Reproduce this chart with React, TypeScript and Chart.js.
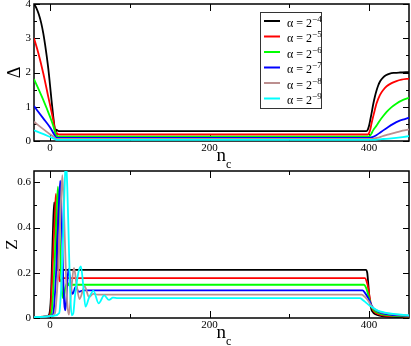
import React, { useEffect, useRef } from "react";
import { Chart, registerables } from "chart.js";

Chart.register(...registerables);

type Pt = [number, number];

// ---------- data ----------
const SERIES_COLORS = ["#000000", "#ff0000", "#00ff00", "#0000ff", "#bc8f8f", "#00ffff"];
const ALPHA_EXPONENTS = ["\u22124", "\u22125", "\u22126", "\u22127", "\u22128", "\u22129"];

const X_MAJOR_TICKS = [0, 200, 400];
const X_MINOR_TICKS = [100, 300];
const X_TICK_LABELS = ["0", "200", "400"];

const DELTA_MAJOR_TICKS = [0, 1, 2, 3, 4];
const DELTA_MINOR_TICKS = [0.5, 1.5, 2.5, 3.5];
const DELTA_TICK_LABELS = ["0", "1", "2", "3", "4"];

const Z_MAJOR_TICKS = [0, 0.2, 0.4, 0.6];
const Z_MINOR_TICKS = [0.1, 0.3, 0.5];
const Z_TICK_LABELS = ["0", "0.2", "0.4", "0.6"];

// Δ(n_c) for α = 2^-4 ... 2^-9
const DELTA_A4: Pt[] = [
  [-20, 4.0], [-17, 3.88], [-14, 3.7], [-11, 3.45], [-8.4, 3.15], [-6, 2.8], [-4.2, 2.5], [-2, 2.1],
  [0, 1.65], [2, 1.18], [4.2, 0.7], [5.5, 0.45], [6.5, 0.3], [7.3, 0.27], [8.2, 0.33], [9.2, 0.31],
  [11, 0.29], [396.5, 0.29], [398.5, 0.34], [400, 0.45], [401.5, 0.62], [403, 0.8], [405.2, 1.08],
  [407.3, 1.3], [409.4, 1.48], [411.4, 1.62], [414, 1.75], [417.7, 1.86], [421, 1.92], [426, 1.97],
  [432, 1.99], [438.6, 2.0], [450, 2.01],
];
const DELTA_A5: Pt[] = [
  [-20, 3.0], [-14.6, 2.57], [-8.4, 1.98], [-2.1, 1.29], [2, 0.85], [4.2, 0.6], [6, 0.35], [7, 0.22],
  [7.8, 0.18], [8.8, 0.23], [10, 0.2], [12, 0.19], [398.5, 0.19], [400, 0.24], [401.5, 0.34],
  [403, 0.51], [406, 0.8], [409.4, 1.1], [413.5, 1.34], [417.7, 1.49], [422, 1.6], [428.2, 1.69],
  [434.3, 1.75], [440.7, 1.79], [450, 1.82],
];
const DELTA_A6: Pt[] = [
  [-20, 1.81], [-8.4, 1.2], [0, 0.71], [4, 0.45], [6.3, 0.26], [7.5, 0.14], [8.5, 0.16], [10, 0.13],
  [399.5, 0.13], [401, 0.15], [403, 0.22], [405, 0.31], [409.4, 0.45], [413.5, 0.6], [417.7, 0.73],
  [422, 0.85], [428.2, 0.99], [434, 1.09], [440.7, 1.18], [450, 1.26],
];
const DELTA_A7: Pt[] = [
  [-20, 1.02], [-8.4, 0.66], [0, 0.4], [5, 0.2], [7, 0.12], [8.5, 0.09], [400, 0.09], [402, 0.1],
  [405, 0.12], [409, 0.17], [413.5, 0.24], [417.7, 0.31], [424, 0.41], [430.3, 0.5], [437, 0.58],
  [444.8, 0.64], [450, 0.68],
];
const DELTA_A8: Pt[] = [
  [-20, 0.56], [-8, 0.34], [0, 0.2], [5, 0.12], [8, 0.06], [402, 0.06], [406, 0.07], [410, 0.09],
  [418, 0.15], [426, 0.2], [434, 0.25], [442, 0.3], [450, 0.34],
];
const DELTA_A9: Pt[] = [
  [-20, 0.31], [-8, 0.2], [0, 0.12], [5, 0.07], [8, 0.035], [406, 0.035], [412, 0.045], [418, 0.058],
  [425, 0.072], [434, 0.093], [442, 0.115], [450, 0.14],
];

// Z(n_c) for α = 2^-4 ... 2^-9
const Z_A4: Pt[] = [
  [-20, 0.004], [-5, 0.006], [-1, 0.015], [0.2, 0.04], [1.25, 0.096], [2.9, 0.287], [4.2, 0.434],
  [5.4, 0.512], [6.7, 0.42], [7.9, 0.3], [9.2, 0.22], [10.4, 0.21], [12, 0.213], [396, 0.213],
  [397.7, 0.199], [399, 0.15], [400.2, 0.096], [401.5, 0.06], [403, 0.037], [405, 0.025],
  [407.3, 0.018], [412, 0.011], [417.7, 0.007], [430, 0.005], [450, 0.003],
];
const Z_A5: Pt[] = [
  [-20, 0.004], [-5, 0.006], [-0.5, 0.012], [0.8, 0.03], [2, 0.1], [3.3, 0.213], [5.4, 0.39],
  [6.7, 0.49], [7.5, 0.549], [8.8, 0.45], [10, 0.287], [11.3, 0.184], [12.5, 0.162], [14.6, 0.172],
  [17, 0.176], [394.7, 0.176], [397, 0.16], [398.9, 0.132], [401, 0.085], [403, 0.051], [405, 0.035],
  [407.3, 0.025], [414, 0.015], [421.9, 0.01], [435, 0.008], [450, 0.006],
];
const Z_A6: Pt[] = [
  [-20, 0.004], [-5, 0.006], [0, 0.01], [2.1, 0.025], [3.8, 0.1], [5.4, 0.213], [7.9, 0.434],
  [10, 0.581], [11.7, 0.434], [13.4, 0.243], [15, 0.118], [16.7, 0.088], [19.2, 0.132],
  [21.7, 0.157], [24.2, 0.143], [28, 0.147], [393.5, 0.147], [396, 0.135], [398.9, 0.103],
  [401, 0.075], [403, 0.051], [406, 0.035], [409.4, 0.025], [417, 0.016], [426, 0.012], [450, 0.007],
];
const Z_A7: Pt[] = [
  [-20, 0.004], [-5, 0.006], [1, 0.01], [4.2, 0.019], [5.8, 0.08], [7.5, 0.184], [10.4, 0.434],
  [12.9, 0.607], [14.6, 0.449], [16.3, 0.213], [17.9, 0.066], [19.2, 0.034], [20.5, 0.08],
  [22, 0.17], [23.3, 0.216], [25, 0.18], [27, 0.12], [28.4, 0.107], [32.2, 0.137], [36, 0.116],
  [42, 0.122], [391.8, 0.122], [395, 0.11], [398.9, 0.088], [402, 0.064], [405.2, 0.044],
  [409, 0.033], [413.5, 0.025], [420, 0.018], [430.2, 0.013], [450, 0.009],
];
const Z_A8: Pt[] = [
  [-20, 0.004], [-5, 0.006], [2, 0.01], [6.3, 0.022], [8.5, 0.1], [10.4, 0.213], [13.4, 0.478],
  [15.5, 0.632], [17.5, 0.478], [19.6, 0.243], [21.7, 0.066], [23.8, 0.015], [26.7, 0.125],
  [30.1, 0.221], [33.4, 0.147], [37, 0.084], [43.5, 0.14], [49, 0.093], [54.3, 0.107], [60, 0.103],
  [390.6, 0.103], [395, 0.092], [398.9, 0.076], [402, 0.058], [405.2, 0.044], [410, 0.033],
  [415.6, 0.025], [425, 0.019], [434.4, 0.015], [450, 0.011],
];
const Z_A9: Pt[] = [
  [-20, 0.004], [-5, 0.006], [5, 0.01], [11.7, 0.022], [13.2, 0.08], [14.6, 0.169], [16.7, 0.39],
  [18.4, 0.58], [20, 0.7], [21.7, 0.58], [23.4, 0.36], [25.1, 0.14], [27.2, 0.012], [29.2, 0.02],
  [31.3, 0.096], [35.5, 0.199], [38.8, 0.228], [41.8, 0.14], [44.5, 0.05], [49, 0.09], [54.5, 0.12],
  [61, 0.065], [68, 0.1], [74, 0.08], [79, 0.09], [85, 0.088], [388.5, 0.088], [392, 0.08],
  [396.8, 0.066], [401, 0.054], [405.2, 0.044], [409, 0.036], [413.5, 0.029], [421, 0.023],
  [430.2, 0.018], [440, 0.015], [450, 0.012],
];

const DELTA_SERIES = [DELTA_A4, DELTA_A5, DELTA_A6, DELTA_A7, DELTA_A8, DELTA_A9];
const Z_SERIES = [Z_A4, Z_A5, Z_A6, Z_A7, Z_A8, Z_A9];

const X_MIN = -20;
const X_MAX = 450;

const SERIF = '"Liberation Serif", "Times New Roman", serif';

interface PanelCfg {
  series: Pt[][];
  yMin: number;
  yMax: number;
  yMajor: number[];
  yMinor: number[];
  yLabels: string[];
  yTitle: string;
  yTitleX: number;
  yTitleSize: number;
  legend: boolean;
  width: number;
  height: number;
  plotTop: number;
  plotBottom: number;
}

function makePlugin(cfg: PanelCfg) {
  return {
    id: "frameAndDecor",
    beforeDatasetsDraw(chart: any) {
      const { ctx, chartArea: a, scales } = chart;
      const xs = scales.x;
      const ys = scales.y;
      ctx.save();
      ctx.strokeStyle = "#000";
      ctx.lineWidth = 1;
      const vTick = (v: number, len: number) => {
        const px = Math.round(xs.getPixelForValue(v)) + 0.5;
        ctx.beginPath();
        ctx.moveTo(px, a.bottom);
        ctx.lineTo(px, a.bottom - len);
        ctx.moveTo(px, a.top);
        ctx.lineTo(px, a.top + len);
        ctx.stroke();
      };
      const hTick = (v: number, len: number) => {
        const py = Math.round(ys.getPixelForValue(v)) + 0.5;
        ctx.beginPath();
        ctx.moveTo(a.left, py);
        ctx.lineTo(a.left + len, py);
        ctx.moveTo(a.right, py);
        ctx.lineTo(a.right - len, py);
        ctx.stroke();
      };
      X_MAJOR_TICKS.forEach((v) => vTick(v, 7));
      X_MINOR_TICKS.forEach((v) => vTick(v, 4));
      cfg.yMajor.forEach((v) => hTick(v, 6));
      cfg.yMinor.forEach((v) => hTick(v, 3));
      ctx.lineWidth = 1.5;
      ctx.strokeRect(a.left, a.top, a.right - a.left, a.bottom - a.top);
      ctx.restore();
    },
    afterDraw(chart: any) {
      const { ctx, chartArea: a, scales } = chart;
      const xs = scales.x;
      ctx.save();
      ctx.fillStyle = "#000";
      // y title (rotated)
      ctx.save();
      ctx.translate(cfg.yTitleX, (a.top + a.bottom) / 2);
      ctx.rotate(-Math.PI / 2);
      ctx.font = `${cfg.yTitleSize}px ${SERIF}`;
      ctx.textAlign = "center";
      ctx.textBaseline = "middle";
      ctx.fillText(cfg.yTitle, 0, 0);
      ctx.restore();
      // x title n_c
      const nx = xs.getPixelForValue(200) + 7;
      const base = a.bottom + 19.5;
      ctx.font = `19px ${SERIF}`;
      ctx.textAlign = "left";
      ctx.textBaseline = "alphabetic";
      ctx.fillText("n", nx, base);
      const nw = ctx.measureText("n").width;
      ctx.font = `12px ${SERIF}`;
      ctx.fillText("c", nx + nw, base + 7);
      // legend
      if (cfg.legend) {
        const lx = 260;
        const ly = 12;
        ctx.fillStyle = "#fff";
        ctx.fillRect(lx, ly, 62, 97);
        ctx.strokeStyle = "#333";
        ctx.lineWidth = 1;
        ctx.strokeRect(lx + 0.5, ly + 0.5, 61, 96);
        for (let i = 0; i < SERIES_COLORS.length; i++) {
          const ry = 21 + i * 15.5;
          ctx.strokeStyle = SERIES_COLORS[i];
          ctx.lineWidth = 2;
          ctx.beginPath();
          ctx.moveTo(264, ry);
          ctx.lineTo(280, ry);
          ctx.stroke();
          ctx.fillStyle = "#000";
          ctx.font = `12px ${SERIF}`;
          const txt = "\u03b1 = 2";
          ctx.fillText(txt, 287, ry + 5.5);
          const w = ctx.measureText(txt).width;
          ctx.font = `9px ${SERIF}`;
          ctx.fillText(ALPHA_EXPONENTS[i], 287 + w, ry + 0.5);
        }
      }
      ctx.restore();
    },
  };
}

function Panel({ cfg }: { cfg: PanelCfg }) {
  const ref = useRef<HTMLCanvasElement | null>(null);
  useEffect(() => {
    if (!ref.current) return;
    const datasets = cfg.series.map((s, i) => ({
      data: s.map(([x, y]) => ({ x, y })),
      borderColor: SERIES_COLORS[i],
      backgroundColor: SERIES_COLORS[i],
      borderWidth: 1.8,
      pointRadius: 0,
      fill: false,
      cubicInterpolationMode: "monotone" as const,
      order: cfg.series.length - i,
    }));
    const tickFont = { family: SERIF, size: 11 };
    const chart = new Chart(ref.current, {
      type: "line",
      data: { datasets },
      options: {
        animation: false,
        responsive: false,
        maintainAspectRatio: false,
        events: [],
        layout: { padding: { left: 0, right: 2, top: cfg.plotTop, bottom: 0 } },
        plugins: { legend: { display: false }, tooltip: { enabled: false } },
        scales: {
          x: {
            type: "linear",
            min: X_MIN,
            max: X_MAX,
            grid: { display: false, drawTicks: false },
            border: { display: false },
            ticks: {
              font: tickFont,
              color: "#000",
              padding: 1,
              maxRotation: 0,
              autoSkip: false,
              callback: (v: any) => {
                const k = X_MAJOR_TICKS.indexOf(Number(v));
                return k >= 0 ? X_TICK_LABELS[k] : "";
              },
            },
            afterBuildTicks: (s: any) => {
              s.ticks = X_MAJOR_TICKS.map((v) => ({ value: v }));
            },
            afterFit: (s: any) => {
              s.height = cfg.height - cfg.plotBottom;
              s.paddingLeft = 0;
              s.paddingRight = 0;
            },
          },
          y: {
            type: "linear",
            min: cfg.yMin,
            max: cfg.yMax,
            grid: { display: false, drawTicks: false },
            border: { display: false },
            ticks: {
              font: tickFont,
              color: "#000",
              padding: 3,
              autoSkip: false,
              callback: (v: any) => {
                const k = cfg.yMajor.findIndex((m) => Math.abs(m - Number(v)) < 1e-9);
                return k >= 0 ? cfg.yLabels[k] : "";
              },
            },
            afterBuildTicks: (s: any) => {
              s.ticks = cfg.yMajor.map((v) => ({ value: v }));
            },
            afterFit: (s: any) => {
              s.width = 34;
              s.paddingTop = 0;
              s.paddingBottom = 0;
            },
          },
        },
      } as any,
      plugins: [makePlugin(cfg)],
    });
    return () => chart.destroy();
  }, [cfg]);
  return <canvas ref={ref} width={cfg.width} height={cfg.height} style={{ display: "block" }} />;
}

const TOP_CFG: PanelCfg = {
  series: DELTA_SERIES,
  yMin: 0,
  yMax: 4,
  yMajor: DELTA_MAJOR_TICKS,
  yMinor: DELTA_MINOR_TICKS,
  yLabels: DELTA_TICK_LABELS,
  yTitle: "\u0394",
  yTitleX: 15.5,
  yTitleSize: 18,
  legend: true,
  width: 411,
  height: 168,
  plotTop: 4,
  plotBottom: 141,
};

const BOTTOM_CFG: PanelCfg = {
  series: Z_SERIES,
  yMin: 0,
  yMax: 0.65,
  yMajor: Z_MAJOR_TICKS,
  yMinor: Z_MINOR_TICKS,
  yLabels: Z_TICK_LABELS,
  yTitle: "Z",
  yTitleX: 12.5,
  yTitleSize: 17,
  legend: false,
  width: 411,
  height: 178,
  plotTop: 3,
  plotBottom: 150,
};

export default function App() {
  return (
    <div style={{ position: "absolute", left: 0, top: 0, width: 411, height: 346, background: "#fff" }}>
      <Panel cfg={TOP_CFG} />
      <Panel cfg={BOTTOM_CFG} />
    </div>
  );
}
